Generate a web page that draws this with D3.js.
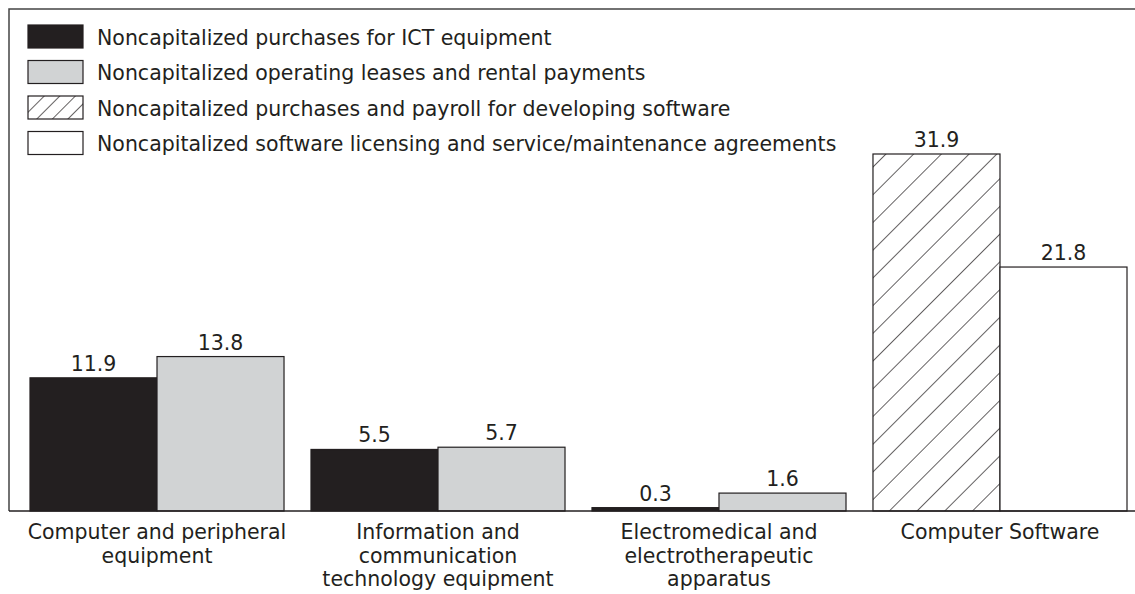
<!DOCTYPE html>
<html>
<head>
  <meta charset='utf-8'>
  <title>Noncapitalized ICT spending</title>
  <script src="https://cdnjs.cloudflare.com/ajax/libs/d3/7.8.5/d3.min.js"></script>
  <style>
    body { margin: 0; background: #fff; }
    text { font-family: "DejaVu Sans", sans-serif; fill: #231f20; }
  </style>
</head>
<body>
  <svg width="1135" height="594" id="chart"></svg>
  <script>
    // categories (x axis), each with two bars
    const categories = [
      ["Computer and peripheral", "equipment"],
      ["Information and", "communication", "technology equipment"],
      ["Electromedical and", "electrotherapeutic", "apparatus"],
      ["Computer Software"]
    ];
    const seriesNames = [
      "Noncapitalized purchases for ICT equipment",
      "Noncapitalized operating leases and rental payments",
      "Noncapitalized purchases and payroll for developing software",
      "Noncapitalized software licensing and service/maintenance agreements"
    ];
    // which series each bar belongs to, and its value
    const barSeries = [[0, 1], [0, 1], [0, 1], [2, 3]];
    const barValues = [[11.9, 13.8], [5.5, 5.7], [0.3, 1.6], [31.9, 21.8]];

    const ink = "#231f20";
    const fontSize = 20.5;
    const fills = [ink, "#d1d3d4", "url(#hatchBar)", "#fff"];
    const legendFills = [ink, "#d1d3d4", "url(#hatchLegend)", "#fff"];

    const svg = d3.select("#chart");
    const baseY = 511, topY = 154;

    const defs = svg.append("defs");
    function hatch(id, gap) {
      const p = defs.append("pattern")
        .attr("id", id)
        .attr("patternUnits", "userSpaceOnUse")
        .attr("width", gap).attr("height", gap)
        .attr("patternTransform", "rotate(45)");
      p.append("rect").attr("width", gap).attr("height", gap).attr("fill", "#fff");
      p.append("line")
        .attr("x1", 0).attr("y1", 0).attr("x2", 0).attr("y2", gap)
        .attr("stroke", ink).attr("stroke-width", 1.4);
    }
    hatch("hatchBar", 19.6);
    hatch("hatchLegend", 11);

    const x0 = d3.scaleBand()
      .domain(d3.range(categories.length))
      .range([30, 1127])
      .paddingInner(0.096)
      .paddingOuter(0);
    const x1 = d3.scaleBand()
      .domain([0, 1])
      .range([0, x0.bandwidth()]);
    const y = d3.scaleLinear()
      .domain([0, 31.9])
      .range([baseY, topY]);

    // frame: top line, left line
    svg.append("path")
      .attr("d", `M9,${baseY} V9 H1135`)
      .attr("fill", "none").attr("stroke", "#444").attr("stroke-width", 1.5);

    const groups = svg.selectAll("g.grp")
      .data(barValues)
      .join("g")
      .attr("class", "grp")
      .attr("transform", (d, i) => `translate(${x0(i)},0)`);

    groups.selectAll("rect")
      .data((d, i) => d.map((v, j) => ({ v, s: barSeries[i][j], j })))
      .join("rect")
      .attr("x", d => x1(d.j))
      .attr("width", x1.bandwidth())
      .attr("y", d => y(d.v))
      .attr("height", d => baseY - y(d.v))
      .attr("fill", d => fills[d.s])
      .attr("stroke", ink)
      .attr("stroke-width", 1.2);

    groups.selectAll("text.val")
      .data((d, i) => d.map((v, j) => ({ v, j })))
      .join("text")
      .attr("class", "val")
      .attr("x", d => x1(d.j) + x1.bandwidth() / 2)
      .attr("y", d => y(d.v) - 7)
      .attr("text-anchor", "middle")
      .attr("font-size", fontSize)
      .text(d => d.v.toFixed(1));

    // baseline
    svg.append("line")
      .attr("x1", 9).attr("x2", 1135)
      .attr("y1", baseY).attr("y2", baseY)
      .attr("stroke", ink).attr("stroke-width", 1.5);

    // category labels
    svg.selectAll("text.cat")
      .data(categories)
      .join("text")
      .attr("class", "cat")
      .attr("text-anchor", "middle")
      .attr("font-size", fontSize)
      .attr("transform", (d, i) => `translate(${x0(i) + x0.bandwidth() / 2},539)`)
      .selectAll("tspan")
      .data(d => d)
      .join("tspan")
      .attr("x", 0)
      .attr("y", (d, i) => i * 23.5)
      .text(d => d);

    // legend
    const leg = svg.selectAll("g.leg")
      .data(seriesNames)
      .join("g")
      .attr("class", "leg")
      .attr("transform", (d, i) => `translate(28,${25 + i * 35.5})`);
    leg.append("rect")
      .attr("width", 55).attr("height", 23)
      .attr("fill", (d, i) => legendFills[i])
      .attr("stroke", ink).attr("stroke-width", 1.2);
    leg.append("text")
      .attr("x", 69).attr("y", 19.5)
      .attr("font-size", fontSize)
      .text(d => d);
  </script>
</body>
</html>
